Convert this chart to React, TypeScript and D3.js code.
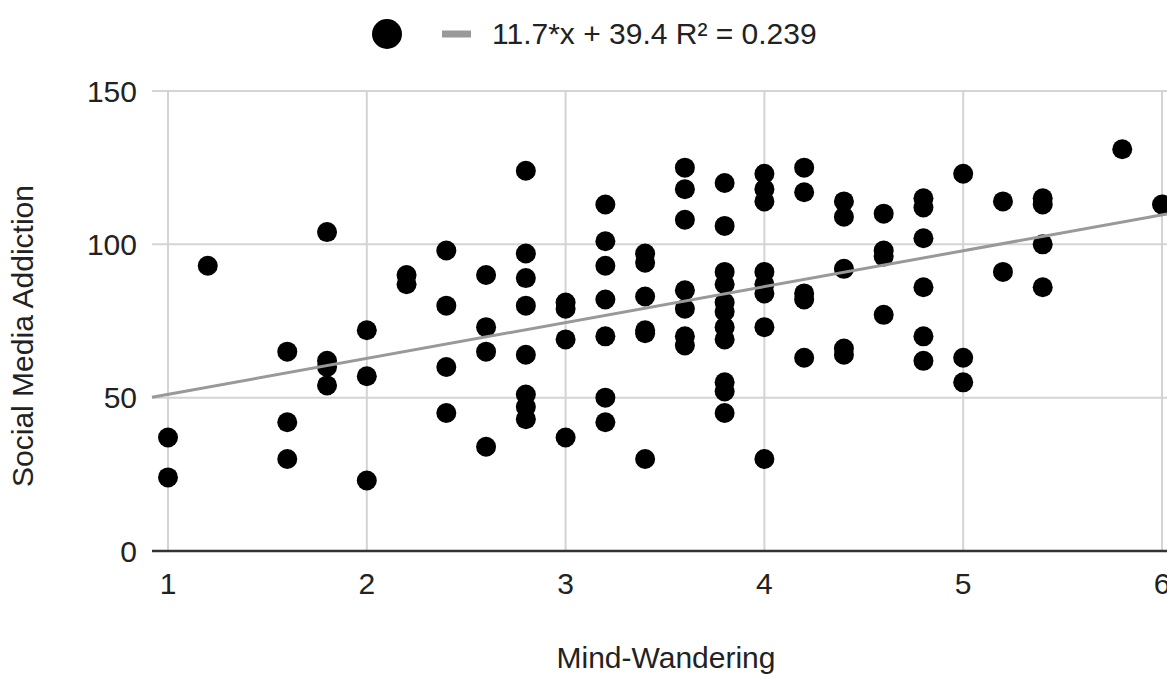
import React from "react";
import * as d3 from "d3";

// x values (Mind-Wandering) and y values (Social Media Addiction)
const mindWandering = [
  1, 1,
  1.2,
  1.6, 1.6, 1.6,
  1.8, 1.8, 1.8, 1.8,
  2, 2, 2,
  2.2, 2.2,
  2.4, 2.4, 2.4, 2.4,
  2.6, 2.6, 2.6, 2.6,
  2.8, 2.8, 2.8, 2.8, 2.8, 2.8, 2.8, 2.8,
  3, 3, 3, 3,
  3.2, 3.2, 3.2, 3.2, 3.2, 3.2, 3.2,
  3.4, 3.4, 3.4, 3.4, 3.4, 3.4,
  3.6, 3.6, 3.6, 3.6, 3.6, 3.6, 3.6,
  3.8, 3.8, 3.8, 3.8, 3.8, 3.8, 3.8, 3.8, 3.8, 3.8, 3.8,
  4, 4, 4, 4, 4, 4, 4, 4,
  4.2, 4.2, 4.2, 4.2, 4.2,
  4.4, 4.4, 4.4, 4.4, 4.4,
  4.6, 4.6, 4.6, 4.6,
  4.8, 4.8, 4.8, 4.8, 4.8, 4.8,
  5, 5, 5,
  5.2, 5.2,
  5.4, 5.4, 5.4, 5.4,
  5.8,
  6,
];
const socialMediaAddiction = [
  37, 24,
  93,
  65, 42, 30,
  104, 62, 60, 54,
  72, 57, 23,
  90, 87,
  98, 80, 60, 45,
  90, 73, 65, 34,
  124, 97, 89, 80, 64, 51, 47, 43,
  81, 79, 69, 37,
  113, 101, 93, 82, 70, 50, 42,
  97, 94, 83, 72, 71, 30,
  125, 118, 108, 85, 79, 70, 67,
  120, 106, 91, 87, 81, 78, 73, 69, 55, 52, 45,
  123, 118, 114, 91, 87, 84, 73, 30,
  125, 117, 84, 82, 63,
  114, 109, 92, 66, 64,
  110, 98, 96, 77,
  115, 112, 102, 86, 70, 62,
  123, 63, 55,
  114, 91,
  115, 113, 100, 86,
  131,
  113,
];

const xTicks = [1, 2, 3, 4, 5, 6];
const yTicks = [0, 50, 100, 150];
const trendSlope = 11.7;
const trendIntercept = 39.4;
const legendLabel = "11.7*x + 39.4 R² = 0.239";
const xTitle = "Mind-Wandering";
const yTitle = "Social Media Addiction";

const W = 1167;
const H = 675;
const plotLeft = 152;
const plotRight = 1167;
const font = "'Liberation Sans', Arial, sans-serif";
const fs = 30;

export default function App() {
  const x = d3.scaleLinear().domain([1, 6]).range([168, 1162]);
  const y = d3.scaleLinear().domain([0, 150]).range([551, 91]);
  const xMin = x.invert(plotLeft);
  const xMax = x.invert(plotRight);

  const points = mindWandering.map((v, i) => ({ x: v, y: socialMediaAddiction[i] }));
  const trend = d3.line<number>()
    .x((d) => x(d))
    .y((d) => y(trendSlope * d + trendIntercept))([xMin, xMax]);

  return (
    <div style={{ position: "absolute", left: 0, top: 0 }}>
      <svg width={W} height={H} style={{ display: "block", background: "#fff" }} fontFamily={font}>
        {/* grid */}
        {yTicks.filter((t) => t > 0).map((t) => (
          <line key={"gy" + t} x1={plotLeft} x2={plotRight} y1={y(t)} y2={y(t)} stroke="#d4d4d4" strokeWidth={2} />
        ))}
        {xTicks.map((t) => (
          <line key={"gx" + t} x1={x(t)} x2={x(t)} y1={y(150)} y2={y(0)} stroke="#d4d4d4" strokeWidth={2} />
        ))}
        <line x1={plotLeft} x2={plotRight} y1={y(0)} y2={y(0)} stroke="#333" strokeWidth={2.5} />

        {/* axis labels */}
        {yTicks.map((t) => (
          <text key={"ty" + t} x={137} y={y(t)} dy="0.36em" textAnchor="end" fontSize={fs} fill="#222">{t}</text>
        ))}
        {xTicks.map((t) => (
          <text key={"tx" + t} x={x(t)} y={594} textAnchor="middle" fontSize={fs} fill="#222">{t}</text>
        ))}

        {/* points */}
        {points.map((p, i) => (
          <circle key={i} cx={x(p.x)} cy={y(p.y)} r={10} fill="#000" />
        ))}

        {/* trendline */}
        <path d={trend || ""} fill="none" stroke="#999" strokeWidth={3} />

        {/* titles */}
        <text x={666} y={668} textAnchor="middle" fontSize={fs} fill="#222">{xTitle}</text>
        <text transform={`translate(33,336) rotate(-90)`} textAnchor="middle" fontSize={fs} fill="#222">{yTitle}</text>

        {/* legend */}
        <circle cx={387} cy={34} r={15} fill="#000" />
        <line x1={442} x2={471} y1={34} y2={34} stroke="#999" strokeWidth={7} />
        <text x={492} y={44} fontSize={fs} fill="#222">{legendLabel}</text>
      </svg>
    </div>
  );
}
